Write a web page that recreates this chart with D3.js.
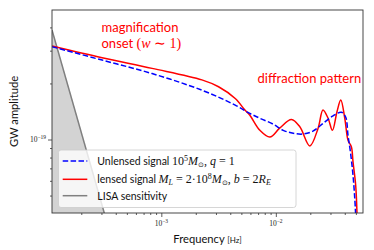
<!DOCTYPE html>
<html>
<head>
<meta charset="utf-8">
<style>
    body { margin: 0; background: #fff; }
    text { font-family: Lato, "DejaVu Sans", sans-serif; }
    .math { font-family: "Liberation Serif", serif; }
</style>
</head>
<body>
<script src="https://cdn.jsdelivr.net/npm/d3@7"></script>
<script>
// values: frequency in Hz, GW amplitude (strain)
const unlensedFreq = [1.114e-4, 3.04e-4, 8.30e-4, 2.26e-3, 4.42e-3, 5.93e-3, 7.26e-3, 9.46e-3, 1.16e-2,
    1.42e-2, 1.73e-2, 2.11e-2, 2.58e-2, 3.16e-2, 3.74e-2, 4.07e-2, 4.27e-2, 4.48e-2, 4.72e-2, 4.89e-2, 4.98e-2];
const unlensedAmp = [3.15e-19, 2.67e-19, 2.26e-19, 1.84e-19, 1.53e-19, 1.38e-19, 1.30e-19, 1.21e-19, 1.12e-19,
    1.08e-19, 1.07e-19, 1.11e-19, 1.22e-19, 1.34e-19, 1.40e-19, 1.32e-19, 1.05e-19, 8.58e-20, 6.43e-20, 4.82e-20, 3.92e-20];

const lensedFreq = [1.114e-4, 3.04e-4, 8.30e-4, 2.26e-3, 3.16e-3, 4.42e-3, 5.37e-3, 5.93e-3, 7.26e-3, 8.87e-3,
    1.08e-2, 1.37e-2, 1.62e-2, 1.98e-2, 2.34e-2, 2.58e-2, 2.86e-2, 3.12e-2, 3.42e-2, 3.69e-2, 4.00e-2,
    4.27e-2, 4.57e-2, 4.72e-2, 4.98e-2, 5.12e-2];
const lensedAmp = [3.18e-19, 2.75e-19, 2.41e-19, 2.09e-19, 1.92e-19, 1.66e-19, 1.44e-19, 1.35e-19, 1.12e-19, 1.03e-19,
    1.15e-19, 1.28e-19, 1.17e-19, 9.24e-20, 1.15e-19, 1.44e-19, 1.30e-19, 1.12e-19, 1.41e-19, 1.63e-19, 1.30e-19,
    9.91e-20, 9.13e-20, 7.58e-20, 5.68e-20, 3.92e-20];

const lisaFreq = [1.11e-4, 3.5e-4];
const lisaAmp = [3.87e-19, 3.27e-20];

const xMajor = [1e-3, 1e-2];
const xMajorExp = ["\u22123", "\u22122"];
const xMinor = [2e-4, 3e-4, 4e-4, 5e-4, 6e-4, 7e-4, 8e-4, 9e-4, 2e-3, 3e-3, 4e-3, 5e-3, 6e-3, 7e-3, 8e-3, 9e-3,
    2e-2, 3e-2, 4e-2, 5e-2];
const yMajor = [1e-19];
const yMajorExp = ["\u221219"];
const yMinor = [5e-20, 6e-20, 7e-20, 8e-20, 9e-20, 2e-19, 3e-19, 4e-19];

var margin = {top: 10, right: 11, bottom: 37, left: 52},
    width = 374 - margin.left - margin.right,
    height = 250 - margin.top - margin.bottom;

var root = d3.select("body").append("svg")
    .attr("width", 374)
    .attr("height", 250);
var svg = root.append("g")
    .attr("transform", "translate(" + margin.left + "," + margin.top + ")");

var x = d3.scaleLog().domain([1.11e-4, 0.0577]).range([0, width]);
var y = d3.scaleLog().domain([4.03e-20, 4.96e-19]).range([height, 0]);

svg.append("clipPath").attr("id", "plot")
    .append("rect").attr("width", width).attr("height", height);

var plot = svg.append("g").attr("clip-path", "url(#plot)");

// LISA sensitivity (shaded below the curve)
var lisa = lisaFreq.map((f, i) => ({f: f, a: lisaAmp[i]}));
plot.append("path")
    .datum(lisa)
    .attr("d", d3.area().x(d => x(d.f)).y0(height).y1(d => y(d.a)))
    .attr("fill", "#d3d3d3");
plot.append("path")
    .datum(lisa)
    .attr("d", d3.line().x(d => x(d.f)).y(d => y(d.a)))
    .attr("fill", "none").attr("stroke", "#808080").attr("stroke-width", 1.5);

var line = d3.line().x(d => x(d.f)).y(d => y(d.a)).curve(d3.curveCatmullRom.alpha(0.5));

plot.append("path")
    .datum(lensedFreq.map((f, i) => ({f: f, a: lensedAmp[i]})))
    .attr("d", line)
    .attr("fill", "none").attr("stroke", "#ff0000").attr("stroke-width", 1.5);

plot.append("path")
    .datum(unlensedFreq.map((f, i) => ({f: f, a: unlensedAmp[i]})))
    .attr("d", line)
    .attr("fill", "none").attr("stroke", "#0000ff").attr("stroke-width", 1.5)
    .attr("stroke-dasharray", "5.5,2.4");

// axes: major and minor ticks, labels drawn separately
function styleAxis(g) {
    g.select(".domain").remove();
    g.selectAll("line").attr("stroke", "#333").attr("stroke-width", 0.8);
}
svg.append("g").attr("transform", "translate(0," + height + ")")
    .call(d3.axisBottom(x).tickValues(xMajor).tickSize(4).tickFormat("")).call(styleAxis);
svg.append("g").attr("transform", "translate(0," + height + ")")
    .call(d3.axisBottom(x).tickValues(xMinor).tickSize(2).tickFormat("")).call(styleAxis);
svg.append("g")
    .call(d3.axisLeft(y).tickValues(yMajor).tickSize(4).tickFormat("")).call(styleAxis);
svg.append("g")
    .call(d3.axisLeft(y).tickValues(yMinor).tickSize(2).tickFormat("")).call(styleAxis);

xMajor.forEach((v, i) => {
    var t = svg.append("text").attr("class", "math")
        .attr("x", x(v)).attr("y", height + 13)
        .attr("text-anchor", "middle").attr("font-size", 7.5).attr("fill", "#222");
    t.append("tspan").text("10");
    t.append("tspan").attr("dy", -3).attr("font-size", 5.5).text(xMajorExp[i]);
});
yMajor.forEach((v, i) => {
    var t = svg.append("text").attr("class", "math")
        .attr("x", -6).attr("y", y(v) + 2.5)
        .attr("text-anchor", "end").attr("font-size", 7.5).attr("fill", "#222");
    t.append("tspan").text("10");
    t.append("tspan").attr("dy", -3).attr("font-size", 5.5).text(yMajorExp[i]);
});

svg.append("rect")
    .attr("width", width).attr("height", height)
    .attr("fill", "none").attr("stroke", "#333").attr("stroke-width", 0.9);

// axis titles
var xl = root.append("text")
    .attr("x", margin.left + width / 2).attr("y", 243)
    .attr("text-anchor", "middle").attr("font-size", 11.2).attr("fill", "#111");
xl.append("tspan").text("Frequency ");
xl.append("tspan").attr("font-size", 8).text("[Hz]");

root.append("text")
    .attr("transform", "translate(17.5," + (margin.top + height / 2) + ") rotate(-90)")
    .attr("text-anchor", "middle").attr("font-size", 11.2).attr("fill", "#111")
    .text("GW amplitude");

// annotations
root.append("text").attr("x", 101.5).attr("y", 32).attr("font-size", 13).attr("fill", "#ff0000")
    .text("magnification");
var onset = root.append("text").attr("x", 101.5).attr("y", 48).attr("font-size", 13).attr("fill", "#ff0000");
onset.append("tspan").text("onset ");
onset.append("tspan").attr("class", "math").attr("font-size", 14).text("(");
onset.append("tspan").attr("class", "math").attr("font-size", 14).attr("font-style", "italic").text("w");
onset.append("tspan").attr("class", "math").attr("font-size", 14).text(" \u223C 1)");
root.append("text").attr("x", 257.5).attr("y", 83).attr("font-size", 13).attr("fill", "#ff0000")
    .text("diffraction pattern");

// legend
var legend = root.append("g");
legend.append("rect")
    .attr("x", 58.5).attr("y", 150).attr("width", 237.5).attr("height", 57.5).attr("rx", 2.5)
    .attr("fill", "#fff").attr("fill-opacity", 0.8).attr("stroke", "#ccc").attr("stroke-width", 0.8);

var rows = [
    {y: 161, color: "#0000ff", dash: "5.5,2.4"},
    {y: 179.3, color: "#ff0000", dash: null},
    {y: 195.7, color: "#808080", dash: null}
];
rows.forEach(r => {
    legend.append("line").attr("x1", 62.7).attr("x2", 87.3).attr("y1", r.y).attr("y2", r.y)
        .attr("stroke", r.color).attr("stroke-width", 1.5).attr("stroke-dasharray", r.dash);
});

function mathSpan(t, s, opts) {
    var sp = t.append("tspan").attr("class", "math").attr("font-size", opts && opts.size || 12).text(s);
    if (opts && opts.it) sp.attr("font-style", "italic");
    if (opts && opts.dy) sp.attr("dy", opts.dy);
    return sp;
}

var t1 = legend.append("text").attr("x", 97.3).attr("y", 164.8).attr("font-size", 10.5).attr("fill", "#111");
t1.append("tspan").text("Unlensed signal ");
mathSpan(t1, "10");
mathSpan(t1, "5", {size: 8, dy: -4});
mathSpan(t1, "M", {it: true, dy: 4});
mathSpan(t1, "\u2299", {size: 7, dy: 2});
mathSpan(t1, ", ", {dy: -2});
mathSpan(t1, "q", {it: true});
mathSpan(t1, " = 1");

var t2 = legend.append("text").attr("x", 97.3).attr("y", 183.1).attr("font-size", 10.5).attr("fill", "#111");
t2.append("tspan").text("lensed signal ");
mathSpan(t2, "M", {it: true});
mathSpan(t2, "L", {it: true, size: 8, dy: 2});
mathSpan(t2, " = 2\u00B710", {dy: -2});
mathSpan(t2, "8", {size: 8, dy: -4});
mathSpan(t2, "M", {it: true, dy: 4});
mathSpan(t2, "\u2299", {size: 7, dy: 2});
mathSpan(t2, ", ", {dy: -2});
mathSpan(t2, "b", {it: true});
mathSpan(t2, " = 2");
mathSpan(t2, "R", {it: true});
mathSpan(t2, "E", {it: true, size: 8, dy: 2});

legend.append("text").attr("x", 97.3).attr("y", 199.5).attr("font-size", 10.5).attr("fill", "#111")
    .text("LISA sensitivity");
</script>
</body>
</html>
